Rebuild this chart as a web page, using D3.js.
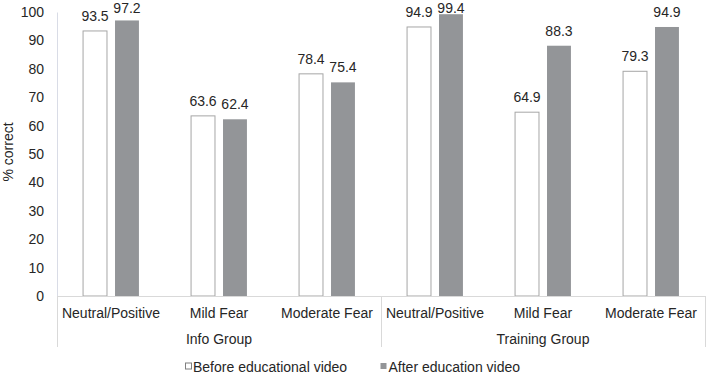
<!DOCTYPE html>
<html>
<head>
<meta charset="utf-8">
<script src="https://cdn.jsdelivr.net/npm/d3@7"></script>
<style>
  body { margin: 0; background: #fff; }
  svg { display: block; font-family: Arial, "Liberation Sans", sans-serif; }
</style>
</head>
<body>
<svg id="chart" width="708" height="374"></svg>
<script>
const groups = ["Info Group", "Training Group"];
const categories = ["Neutral/Positive", "Mild Fear", "Moderate Fear"];
const seriesNames = ["Before educational video", "After education video"];
const beforeValues = [93.5, 63.6, 78.4, 94.9, 64.9, 79.3];
const afterValues = [97.2, 62.4, 75.4, 99.4, 88.3, 94.9];
const yTicks = [0, 10, 20, 30, 40, 50, 60, 70, 80, 90, 100];

(function () {
const svg = d3.select("#chart");
const mLeft = 57, mRight = 705, mTop = 12, mBottom = 296;
const textColor = "#262626";
const colors = ["#ffffff", "#939598"];
const strokes = ["#a6a6a6", "none"];

const rows = [];
groups.forEach((g, gi) => categories.forEach((c, ci) => {
  const i = gi * categories.length + ci;
  rows.push({ key: g + "|" + c, group: g, cat: c, values: [beforeValues[i], afterValues[i]] });
}));

const x0 = d3.scaleBand().domain(rows.map(d => d.key)).range([mLeft, mRight]).padding(0);
const x1 = d3.scaleBand().domain([0, 1]).range([0, x0.bandwidth()]).paddingInner(0.22).paddingOuter(0.8);
const y = d3.scaleLinear().domain([0, 100]).range([mBottom, mTop]);

// y axis
const yAxis = d3.axisLeft(y).tickValues(yTicks).tickSize(0).tickPadding(13);
const yg = svg.append("g").attr("transform", `translate(${mLeft},0)`).call(yAxis);
yg.select(".domain").attr("stroke", "#d9dce6");
yg.selectAll("text").attr("font-size", 14).attr("fill", textColor).attr("font-family", "Arial, 'Liberation Sans', sans-serif");

svg.append("text")
  .attr("transform", `translate(13,152) rotate(-90)`)
  .attr("text-anchor", "middle")
  .attr("font-size", 14).attr("fill", textColor)
  .text("% correct");

// bars
const cat = svg.append("g").selectAll("g").data(rows).join("g")
  .attr("transform", d => `translate(${x0(d.key)},0)`);

cat.selectAll("rect").data(d => d.values.map((v, i) => ({ v, i }))).join("rect")
  .attr("x", d => x1(d.i) + 0.5)
  .attr("y", d => y(d.v) + 0.5)
  .attr("width", x1.bandwidth() - 1)
  .attr("height", d => y(0) - y(d.v) - 0.5)
  .attr("fill", d => colors[d.i])
  .attr("stroke", d => strokes[d.i])
  .attr("stroke-width", 1);

cat.selectAll("text.val").data(d => d.values.map((v, i) => ({ v, i }))).join("text")
  .attr("class", "val")
  .attr("x", d => x1(d.i) + x1.bandwidth() / 2)
  .attr("y", d => Math.max(y(d.v) - 9.5, 13))
  .attr("text-anchor", "middle")
  .attr("font-size", 14).attr("fill", textColor)
  .text(d => d.v.toFixed(1));

// x axis baseline
svg.append("line").attr("x1", mLeft).attr("x2", mRight).attr("y1", mBottom + 0.5).attr("y2", mBottom + 0.5)
  .attr("stroke", "#d9d9d9");

// category labels
svg.append("g").selectAll("text").data(rows).join("text")
  .attr("x", d => x0(d.key) + x0.bandwidth() / 2)
  .attr("y", 318)
  .attr("text-anchor", "middle")
  .attr("font-size", 14).attr("fill", textColor)
  .text(d => d.cat);

// group labels and separators
const groupScale = d3.scaleBand().domain(groups).range([mLeft, mRight]);
svg.append("g").selectAll("text").data(groups).join("text")
  .attr("x", d => groupScale(d) + groupScale.bandwidth() / 2)
  .attr("y", 344)
  .attr("text-anchor", "middle")
  .attr("font-size", 14).attr("fill", textColor)
  .text(d => d);

const seps = groups.map(g => groupScale(g)).concat([mRight]);
svg.append("g").selectAll("line").data(seps).join("line")
  .attr("x1", d => Math.round(d) + 0.5).attr("x2", d => Math.round(d) + 0.5)
  .attr("y1", mBottom).attr("y2", 347)
  .attr("stroke", "#d9d9d9");

// legend
const legendX = [185, 380];
const legendTextDx = [8, 8.5];
const lg = svg.append("g").selectAll("g").data(seriesNames).join("g")
  .attr("transform", (d, i) => `translate(${legendX[i]},372)`);
lg.append("rect").attr("x", 0.5).attr("y", -9).attr("width", 6).attr("height", 6)
  .attr("fill", (d, i) => colors[i]).attr("stroke", (d, i) => i === 0 ? "#7f7f7f" : "none");
lg.append("text").attr("x", (d, i) => legendTextDx[i]).attr("y", 0)
  .attr("font-size", 14).attr("fill", textColor)
  .text(d => d);
})();
</script>
</body>
</html>
